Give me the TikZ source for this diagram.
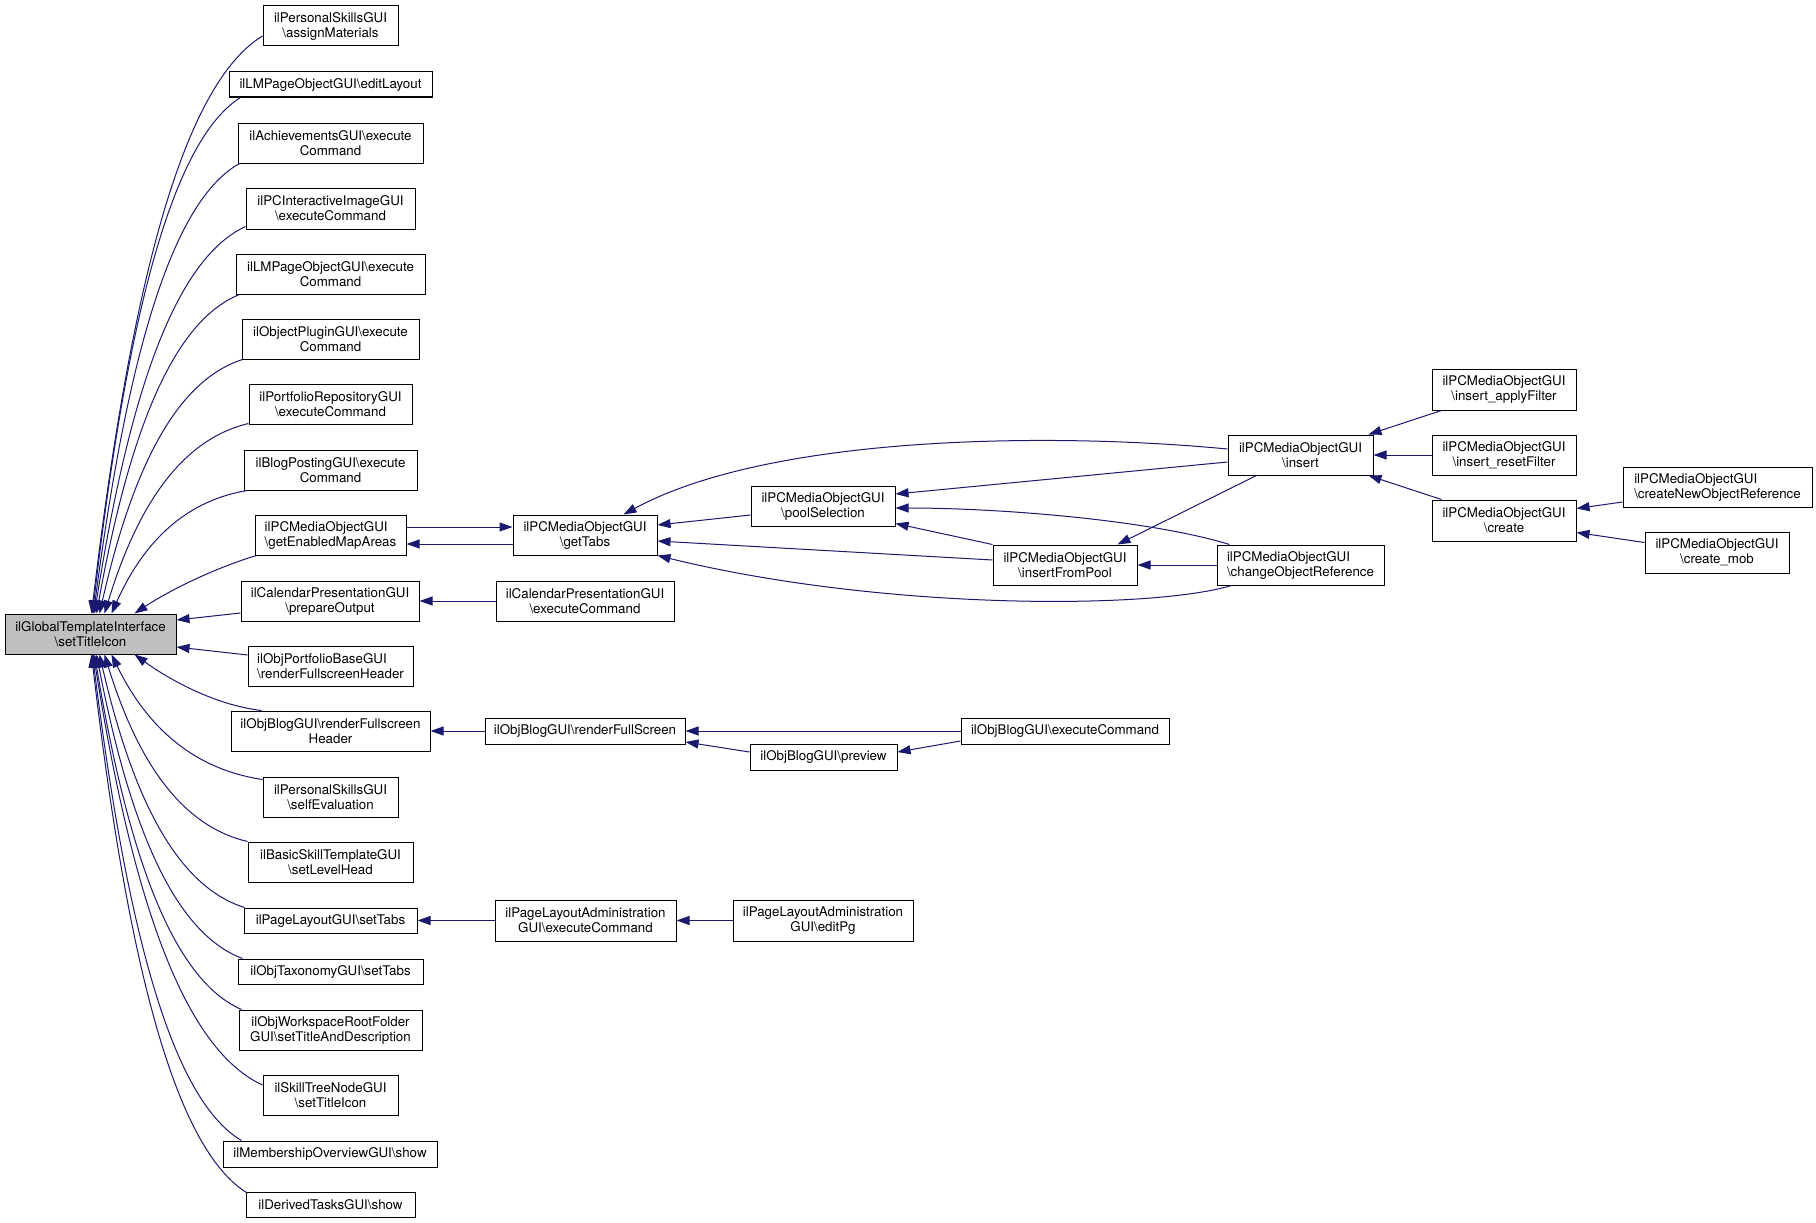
\documentclass[tikz,border=0pt]{standalone}
\usepackage{fontspec}
\setmainfont{TeX Gyre Heros}
\usetikzlibrary{arrows.meta,calc}
\newcommand{\bks}{\textbackslash}
\definecolor{edgecol}{HTML}{191970}
\definecolor{rootfill}{HTML}{BFBFBF}
\newcommand{\mynode}[7][]{%
  \pgfmathsetmacro\ndw{#5-#3}%
  \pgfmathsetmacro\ndh{#6-#4}%
  \pgfmathsetmacro\ndx{(#3+#5)/2}%
  \pgfmathsetmacro\ndy{(#4+#6)/2}%
  \node[box,#1,minimum width=\ndw pt,minimum height=\ndh pt] (#2) at (\ndx,\ndy) {#7};}
\newcommand{\rootedge}[2]{%
  \draw[edge] let \p1=(#1), \p2=(#2) in (\p1) .. controls ({\x1+0.5*(\x2-\x1)},{\y1+0.09*(\y2-\y1)}) and ({\x2+0.21*(\x1-\x2)},{\y2+0.52*(\y1-\y2)}) .. (\p2);}
\begin{document}
\begin{tikzpicture}[x=1pt,y=-1pt,
  box/.style={draw=black,line width=1pt,fill=white,rectangle,inner sep=0pt,align=center,font=\fontsize{13.33}{15}\selectfont},
  lbox/.style={align=left},
  edge/.style={draw=edgecol,line width=1pt,-{Triangle[length=13pt,width=9pt]}}]
\fill[white] (0,0) rectangle (1816,1223);
\useasboundingbox (0,0) rectangle (1816,1223);

% nodes
\mynode[fill=rootfill]{root}{5}{614}{176}{654}{ilGlobalTemplateInterface\\\bks setTitleIcon}
\mynode{n1}{263}{6}{398}{46}{ilPersonalSkillsGUI\\\bks assignMaterials}
\mynode{n2}{229}{72}{432}{97}{ilLMPageObjectGUI\bks editLayout}
\mynode{n3}{238}{123}{423}{163}{ilAchievementsGUI\bks execute\\Command}
\mynode{n4}{246}{188}{415}{229}{ilPCInteractiveImageGUI\\\bks executeCommand}
\mynode{n5}{236}{254}{425}{294}{ilLMPageObjectGUI\bks execute\\Command}
\mynode{n6}{242}{319}{419}{359}{ilObjectPluginGUI\bks execute\\Command}
\mynode{n7}{249}{384}{412}{424}{ilPortfolioRepositoryGUI\\\bks executeCommand}
\mynode{n8}{244}{450}{417}{490}{ilBlogPostingGUI\bks execute\\Command}
\mynode[lbox]{n9}{255}{515}{406}{555}{ilPCMediaObjectGUI\\\bks getEnabledMapAreas}
\mynode{n10}{241}{581}{419}{621}{ilCalendarPresentationGUI\\\bks prepareOutput}
\mynode[lbox]{n11}{248}{646}{413}{686}{ilObjPortfolioBaseGUI\\\bks renderFullscreenHeader}
\mynode{n12}{231}{711}{430}{751}{ilObjBlogGUI\bks renderFullscreen\\Header}
\mynode{n13}{263}{777}{398}{817}{ilPersonalSkillsGUI\\\bks selfEvaluation}
\mynode{n14}{248}{842}{413}{882}{ilBasicSkillTemplateGUI\\\bks setLevelHead}
\mynode{n15}{244}{908}{417}{933}{ilPageLayoutGUI\bks setTabs}
\mynode{n16}{238}{959}{423}{984}{ilObjTaxonomyGUI\bks setTabs}
\mynode{n17}{239}{1010}{422}{1050}{ilObjWorkspaceRootFolder\\GUI\bks setTitleAndDescription}
\mynode{n18}{263}{1075}{398}{1115}{ilSkillTreeNodeGUI\\\bks setTitleIcon}
\mynode{n19}{223}{1141}{437}{1167}{ilMembershipOverviewGUI\bks show}
\mynode{n20}{246}{1192}{415}{1217}{ilDerivedTasksGUI\bks show}

\mynode{gettabs}{513}{515}{657}{555}{ilPCMediaObjectGUI\\\bks getTabs}
\mynode{calexec}{496}{581}{674}{621}{ilCalendarPresentationGUI\\\bks executeCommand}
\mynode{pool}{751}{486}{895}{526}{ilPCMediaObjectGUI\\\bks poolSelection}
\mynode{insert}{1228}{435}{1373}{475}{ilPCMediaObjectGUI\\\bks insert}
\mynode{ifp}{993}{545}{1137}{585}{ilPCMediaObjectGUI\\\bks insertFromPool}
\mynode[lbox]{cor}{1217}{545}{1384}{585}{ilPCMediaObjectGUI\\\bks changeObjectReference}
\mynode{iaf}{1432}{369}{1576}{410}{ilPCMediaObjectGUI\\\bks insert\_applyFilter}
\mynode{irf}{1432}{435}{1576}{475}{ilPCMediaObjectGUI\\\bks insert\_resetFilter}
\mynode{create}{1432}{500}{1576}{541}{ilPCMediaObjectGUI\\\bks create}
\mynode[lbox]{cnor}{1623}{467}{1812}{507}{ilPCMediaObjectGUI\\\bks createNewObjectReference}
\mynode{cmob}{1645}{532}{1789}{573}{ilPCMediaObjectGUI\\\bks create\_mob}
\mynode{rfs}{485}{718}{685}{744}{ilObjBlogGUI\bks renderFullScreen}
\mynode{preview}{750}{744}{897}{770}{ilObjBlogGUI\bks preview}
\mynode{obexec}{961}{718}{1169}{744}{ilObjBlogGUI\bks executeCommand}
\mynode{plaexec}{495}{900}{676}{941}{ilPageLayoutAdministration\\GUI\bks executeCommand}
\mynode{editpg}{733}{900}{913}{941}{ilPageLayoutAdministration\\GUI\bks editPg}

% edges into root (top)
\rootedge{$(n1.west)+(0,10)$}{$(root.north west)+(87,0)$}
\rootedge{$(n2.south west)+(12,0)$}{$(root.north west)+(88,0)$}
\rootedge{$(n3.south west)+(2,0)$}{$(root.north west)+(89,0)$}
\rootedge{$(n4.south west)+(0,-3)$}{$(root.north west)+(90,0)$}
\rootedge{$(n5.south west)+(4,0)$}{$(root.north west)+(92,0)$}
\rootedge{$(n6.south west)+(1,0)$}{$(root.north west)+(95,0)$}
\rootedge{$(n7.south west)+(0,-1)$}{$(root.north west)+(100,0)$}
\rootedge{$(n8.south west)+(4,0)$}{$(root.north west)+(107,0)$}
\draw[edge] ($(n9.south west)+(2,0)$) .. controls (215,568) and (170,590) .. ($(root.north west)+(130,0)$);
% right side
\draw[edge] ($(n10.west)+(0,12)$) -- ($(root.east)+(0,-14)$);
\draw[edge] ($(n11.west)+(0,-11)$) -- ($(root.east)+(0,13)$);
% bottom
\draw[edge] ($(n12.north west)+(31,0)$) .. controls (215,705) and (170,680) .. ($(root.south west)+(130,0)$);
\rootedge{$(n13.north west)+(0,3)$}{$(root.south west)+(107,0)$}
\rootedge{$(n14.north west)+(0,0)$}{$(root.south west)+(100,0)$}
\rootedge{$(n15.north west)+(1,0)$}{$(root.south west)+(95,0)$}
\rootedge{$(n16.north west)+(5,0)$}{$(root.south west)+(92,0)$}
\rootedge{$(n17.north west)+(3,0)$}{$(root.south west)+(90,0)$}
\rootedge{$(n18.west)+(0,-10)$}{$(root.south west)+(89,0)$}
\rootedge{$(n19.north west)+(19,0)$}{$(root.south west)+(88,0)$}
\rootedge{$(n20.north west)+(1,1)$}{$(root.south west)+(87,0)$}

% getTabs cluster
\draw[edge] ($(n9.east)+(0,-8)$) -- ($(gettabs.west)+(0,-8)$);
\draw[edge] ($(gettabs.west)+(0,9)$) -- ($(n9.east)+(0,9)$);
\draw[edge] ($(pool.west)+(0,9)$) -- ($(gettabs.east)+(0,-10)$);
\draw[edge] ($(insert.west)+(0,-6)$) .. controls (1050,432) and (770,435) .. ($(gettabs.north east)+(-34,0)$);
\draw[edge] ($(ifp.west)+(0,-5)$) -- ($(gettabs.east)+(0,6)$);
\draw[edge] ($(cor.south west)+(15,0)$) .. controls (1150,610) and (880,610) .. (gettabs.south east);
\draw[edge] ($(insert.west)+(0,7)$) -- ($(pool.east)+(0,-12)$);
\draw[edge] ($(cor.north west)+(13,0)$) .. controls (1150,520) and (1000,508) .. ($(pool.east)+(0,2)$);
\draw[edge] (ifp.north west) -- ($(pool.south east)+(0,-3)$);
\draw[edge] ($(insert.south west)+(29,0)$) -- ($(ifp.north east)+(-20,0)$);
\draw[edge] (cor.west) -- (ifp.east);
\draw[edge] ($(iaf.south west)+(10,0)$) -- ($(insert.north east)+(-5,0)$);
\draw[edge] (irf.west) -- (insert.east);
\draw[edge] ($(create.north west)+(10,0)$) -- ($(insert.south east)+(-5,0)$);
\draw[edge] ($(cnor.west)+(0,15)$) -- ($(create.east)+(0,-12)$);
\draw[edge] ($(cmob.west)+(0,-10)$) -- ($(create.east)+(0,12)$);

% other chains
\draw[edge] (calexec.west) -- (n10.east);
\draw[edge] (rfs.west) -- (n12.east);
\draw[edge] (obexec.west) -- (rfs.east);
\draw[edge] ($(preview.west)+(0,-5)$) -- ($(rfs.east)+(0,11)$);
\draw[edge] ($(obexec.west)+(0,10)$) -- ($(preview.east)+(0,-5)$);
\draw[edge] (plaexec.west) -- (n15.east);
\draw[edge] (editpg.west) -- (plaexec.east);
\end{tikzpicture}
\end{document}
